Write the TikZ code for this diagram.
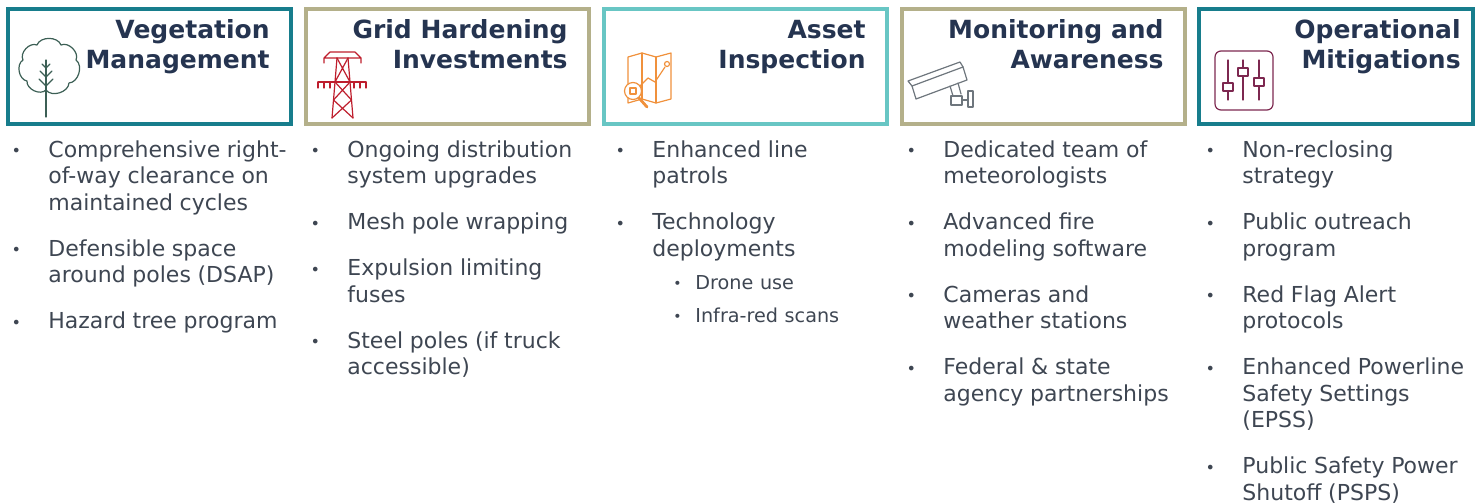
\documentclass[tikz,border=0pt]{standalone}
\usepackage{fontspec}
\setmainfont{DejaVu Sans}
\usetikzlibrary{positioning}

\definecolor{tealdark}{RGB}{23,125,140}
\definecolor{khaki}{RGB}{180,176,138}
\definecolor{teallight}{RGB}{104,198,196}
\definecolor{navy}{RGB}{37,52,80}
\definecolor{bodygray}{RGB}{62,70,82}
\definecolor{treegreen}{RGB}{60,95,85}
\definecolor{towerred}{RGB}{190,30,45}
\definecolor{maporange}{RGB}{240,145,60}
\definecolor{camgray}{RGB}{110,118,125}
\definecolor{slidermaroon}{RGB}{125,40,80}

\newcommand{\bul}[1]{\makebox[0pt][c]{\raisebox{0.2pt}{\fontsize{#1}{#1}\selectfont\textbullet}}}
\newcommand{\fitem}[1]{\fontsize{11}{13.25}\selectfont\parskip=9.75pt\hangindent=16pt\hangafter=1\noindent\makebox[16pt][l]{\bul{8}}#1}
\newcommand{\bitem}[1]{\par\fitem{#1}}
\newcommand{\sitem}[1]{\par\fontsize{9.6}{16}\selectfont\parskip=0.5pt\hangindent=37.5pt\hangafter=1\noindent\hspace*{28.5pt}\makebox[9pt][l]{\bul{7}}#1}

\begin{document}
\begin{tikzpicture}[x=0.5pt, y=-0.5pt, node distance=149pt,
	hdr/.style={draw, line width=2pt, minimum width=141.5pt, minimum height=57.5pt},
	ttl/.style={anchor=base east, align=right, inner sep=0pt, text=navy, font=\fontsize{12.5}{15}\selectfont\bfseries},
	col/.style={anchor=base west, inner sep=0pt, text width=148pt, text=bodygray},
	icon/.style={line width=0.6pt, line cap=round, line join=round}]
	\useasboundingbox (0,0) rectangle (1476,503);

	\node (veg) [hdr, draw=tealdark] at (149.5,66.5) {};
	\node (grid) [hdr, draw=khaki, right of=veg] {};
	\node (asset) [hdr, draw=teallight, right of=grid] {};
	\node (mon) [hdr, draw=khaki, right of=asset] {};
	\node (ops) [hdr, draw=tealdark, minimum width=137pt, right of=mon, xshift=-2.75pt] {};

	\node (vegttl) [ttl] at ([xshift=-11.5pt, yshift=-30.5pt]veg.north east) {Vegetation\\Management};
	\node (gridttl) [ttl] at ([xshift=-11.5pt, yshift=-30.5pt]grid.north east) {Grid Hardening\\Investments};
	\node (assetttl) [ttl] at ([xshift=-11.5pt, yshift=-30.5pt]asset.north east) {Asset\\Inspection};
	\node (monttl) [ttl] at ([xshift=-11.5pt, yshift=-30.5pt]mon.north east) {Monitoring and\\Awareness};
	\node (opsttl) [ttl] at ([xshift=-7pt, yshift=-30.5pt]ops.north east) {Operational\\Mitigations};

	% icons
	\draw[icon, treegreen] (46,90) to[bend left=70] (27,81) to[bend left=70] (23,60) to[bend left=70] (37,45) to[bend left=70] (61,45) to[bend left=70] (76,60) to[bend left=70] (69,83) to[bend left=70] (46,90);
	\draw[icon, treegreen] (46,60) -- (46,117);
	\foreach \y/\w in {68/4, 77/6, 86/7}
		\draw[icon, treegreen] (46-\w,\y-\w) -- (46,\y) -- (46+\w,\y-\w);

	\draw[icon, towerred] (324,63) -- (324,58) -- (330,52) -- (355,52) -- (361,58) -- (361,63) (324,58) -- (361,58);
	\draw[icon, towerred] (337,58) -- (332,118) (348,58) -- (353,118);
	\draw[icon, towerred] (318,82) -- (366,82);
	\foreach \x in {318,324,330,354,360,366}
		\draw[icon, towerred] (\x,82) -- (\x,88);
	\draw[icon, towerred] (337,58) -- (350,82) -- (333.5,100) -- (353,118) (348,58) -- (335,82) -- (351.5,100) -- (332,118);

	\draw[icon, maporange] (628,57) -- (642,53) -- (656,57) -- (671,53) -- (671,99) -- (656,103) -- (642,99) -- (628,103) -- cycle;
	\draw[icon, maporange] (642,53) -- (642,99) (656,57) -- (656,103);
	\draw[icon, maporange] (638,88) -- (648,78) -- (655,82) -- (665,67);
	\draw[icon, maporange] (667,64) circle (2.5);
	\draw[icon, maporange, fill=white] (633,91) circle (8.5);
	\draw[icon, maporange] (630,88) rectangle (636,94);
	\draw[icon, maporange, line width=1.4pt] (639,98) -- (647,107);

	\draw[icon, camgray] (912,86) -- (963,67) -- (967,80) -- (916,99) -- cycle;
	\draw[icon, camgray] (912,86) -- (908,81) -- (960,62) -- (963,67);
	\draw[icon, camgray] (950,86) -- (953,96) (958,83) -- (961,94);
	\draw[icon, camgray] (951,96) rectangle (962,105);
	\draw[icon, camgray] (962,100) -- (968,100);
	\draw[icon, camgray] (968,91) rectangle (973,107);

	\draw[icon, slidermaroon, rounded corners=3pt] (1215,51) rectangle (1273,110);
	\foreach \x/\k in {1228/87, 1243/72, 1259/82} {
		\draw[icon, slidermaroon] (\x,60) -- (\x,100);
		\draw[icon, slidermaroon, fill=white] (\x-5,\k-4) rectangle (\x+5,\k+4);
	}

	% lists
	\node (vegtxt) [col] at (16,157) {%
		\fitem{Comprehensive right-\newline of-way clearance on\newline maintained cycles}
		\bitem{Defensible space\newline around poles (DSAP)}
		\bitem{Hazard tree program}\par};
	\node (gridtxt) [col] at (315,157) {%
		\fitem{Ongoing distribution\newline system upgrades}
		\bitem{Mesh pole wrapping}
		\bitem{Expulsion limiting\newline fuses}
		\bitem{Steel poles (if truck\newline accessible)}\par};
	\node (assettxt) [col] at (620,157) {%
		\fitem{Enhanced line\newline patrols}
		\bitem{Technology\newline deployments}
		\sitem{Drone use}
		\sitem{Infra-red scans}\par};
	\node (montxt) [col] at (911,157) {%
		\fitem{Dedicated team of\newline meteorologists}
		\bitem{Advanced fire\newline modeling software}
		\bitem{Cameras and\newline weather stations}
		\bitem{Federal \& state\newline agency partnerships}\par};
	\node (opstxt) [col] at (1210,157) {%
		\fitem{Non-reclosing\newline strategy}
		\bitem{Public outreach\newline program}
		\bitem{Red Flag Alert\newline protocols}
		\bitem{Enhanced Powerline\newline Safety Settings\newline (EPSS)}
		\bitem{Public Safety Power\newline Shutoff (PSPS)}\par};
\end{tikzpicture}
\end{document}
